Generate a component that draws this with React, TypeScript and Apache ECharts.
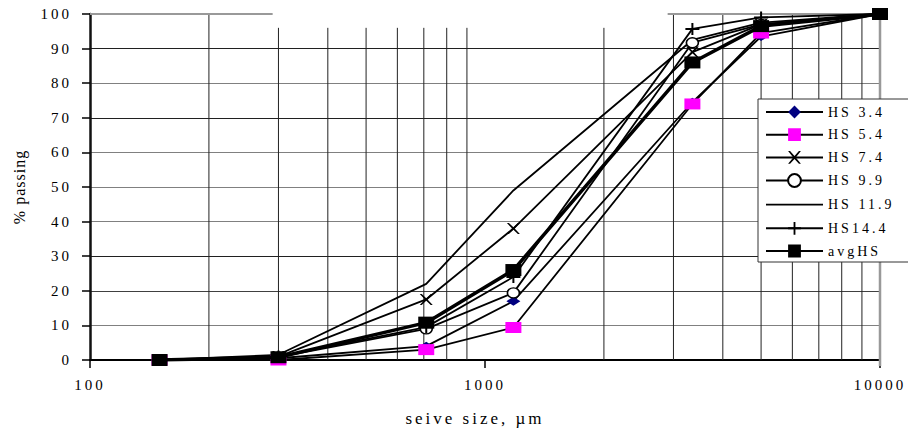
import { useEffect, useRef } from "react";
import * as echarts from "echarts";

// Sieve sizes (µm) and cumulative % passing for each sample
const sieveSizes = [150, 300, 710, 1180, 3350, 5000, 10000];
const hs34 = [0, 0.5, 4, 17, 74.5, 93.5, 100];
const hs54 = [0, 0, 3, 9.4, 74, 94.5, 100];
const hs74 = [0, 1, 17.5, 38, 89, 97, 100];
const hs99 = [0, 0.8, 9, 19.4, 91.7, 97, 100];
const hs119 = [0, 1.5, 22, 49, 92.5, 97.5, 100];
const hs144 = [0, 1, 9.5, 24, 95.7, 99, 100];
const avgHS = [0, 0.8, 10.8, 26, 86, 96.5, 100];

const seriesNames = ["HS 3.4", "HS 5.4", "HS 7.4", "HS 9.9", "HS 11.9", "HS14.4", "avgHS"];
const xTickLabels = [100, 1000, 10000];

// Minor vertical grid lines (axis values) and the % level each one reaches
const minorGridSizes = [200, 300, 400, 500, 600, 700, 800, 900, 2000, 3000, 4000, 5000, 6000, 7000, 8000, 9000];
const minorGridTops = [100, 96, 96, 96, 96, 96, 96, 96, 96, 100, 100, 100, 100, 100, 100, 100];
// Top frame segments (from size, to size)
const topFrameSegments = [
  [100, 290],
  [2900, 10000],
];

const FONT = "Liberation Serif, Times New Roman, serif";

const pairs = (vals: number[]) => sieveSizes.map((s, i) => [s, vals[i]]);

const SYM_X = "path://M0,0 H2 L6.5,4.2 L11,0 H13 L7.8,5.5 L13,11 H11 L6.5,6.8 L2,11 H0 L5.2,5.5 Z";
const SYM_PLUS = "path://M6,0 H8 V5 H14 V7 H8 V12 H6 V7 H0 V5 H6 Z";
const SYM_OVAL = "path://M0,5 A6,5 0 1,0 12,5 A6,5 0 1,0 0,5 Z";
// Plain line legend icon (degenerate corner points keep the full item box)
const ICON_PLAIN_LINE = "path://M0,0 L0.01,0 L0,0.01 Z M0,7.1 H57 V8.9 H0 Z M57,16 L56.99,16 L57,15.99 Z";

export default function App() {
  const ref = useRef<HTMLDivElement>(null);

  useEffect(() => {
    if (!ref.current) return;
    const chart = echarts.init(ref.current, undefined, { renderer: "svg" });

    const lineBase = (name: string, vals: number[]) => ({
      name,
      type: "line",
      data: pairs(vals),
      lineStyle: { color: "#000", width: 1.8 },
      z: 3,
    });

    const option: any = {
      animation: false,
      backgroundColor: "#fff",
      textStyle: { fontFamily: FONT },
      grid: { left: 90, right: 28, top: 14, bottom: 73, containLabel: false },
      xAxis: {
        type: "log",
        logBase: 10,
        min: 100,
        max: 10000,
        name: "seive size, µm",
        nameLocation: "middle",
        nameGap: 50,
        nameTextStyle: { fontFamily: FONT, fontSize: 17, color: "#000", padding: [0, 20, 0, 0] },
        axisLine: { lineStyle: { color: "#000", width: 2 } },
        axisTick: { show: true, length: 8, lineStyle: { color: "#000", width: 1.5 } },
        axisLabel: {
          margin: 17,
          fontFamily: FONT,
          fontSize: 15,
          color: "#000",
          formatter: (v: number) => (xTickLabels.includes(Math.round(v)) ? String(Math.round(v)) : ""),
        },
        splitLine: { show: false },
      },
      yAxis: {
        type: "value",
        min: 0,
        max: 100,
        interval: 10,
        name: "% passing",
        nameLocation: "middle",
        nameGap: 63,
        nameRotate: 90,
        nameTextStyle: { fontFamily: FONT, fontSize: 16, color: "#000" },
        axisLine: { show: true, lineStyle: { color: "#111", width: 2.5 } },
        axisTick: { show: true, length: 8, lineStyle: { color: "#000", width: 1.5 } },
        axisLabel: { margin: 18, fontFamily: FONT, fontSize: 15, color: "#000" },
        splitLine: {
          show: true,
          lineStyle: {
            width: 1.2,
            color: [
              "#000", "#808080", "#404040", "#202020", "#808080", "#808080",
              "#808080", "#202020", "#808080", "#202020", "rgba(0,0,0,0)",
            ],
          },
        },
      },
      legend: {
        orient: "vertical",
        left: 758,
        top: 99,
        itemWidth: 57,
        itemHeight: 16,
        itemGap: 8.7,
        padding: [6, 60, 4, 7],
        backgroundColor: "#fff",
        borderColor: "#333",
        borderWidth: 1,
        borderRadius: 0,
        data: seriesNames.map((n) => (n === "HS 11.9" ? { name: n, icon: ICON_PLAIN_LINE } : n)),
        textStyle: { fontFamily: FONT, fontSize: 14, color: "#000" },
      },
      series: [
        {
          type: "custom",
          silent: true,
          z: 1,
          data: minorGridSizes.map((s, i) => [s, minorGridTops[i]]),
          encode: { x: 0, y: 1 },
          renderItem: (_p: any, api: any) => {
            const a = api.coord([api.value(0), 0]);
            const b = api.coord([api.value(0), api.value(1)]);
            return {
              type: "line",
              shape: { x1: a[0], y1: a[1], x2: b[0], y2: b[1] },
              style: { stroke: "#222", lineWidth: 1 },
            };
          },
        },
        {
          type: "custom",
          silent: true,
          z: 1,
          data: topFrameSegments.map((seg) => [seg[0], seg[1], 100]),
          encode: { x: [0, 1], y: 2 },
          renderItem: (_p: any, api: any) => {
            const a = api.coord([api.value(0), api.value(2)]);
            const b = api.coord([api.value(1), api.value(2)]);
            return {
              type: "line",
              shape: { x1: a[0], y1: a[1], x2: b[0], y2: b[1] },
              style: { stroke: "#999", lineWidth: 2 },
            };
          },
        },
        {
          type: "custom",
          silent: true,
          z: 1,
          data: [[10000, 100]],
          encode: { x: 0, y: 1 },
          renderItem: (_p: any, api: any) => {
            const a = api.coord([api.value(0), 0]);
            const b = api.coord([api.value(0), api.value(1)]);
            return {
              type: "line",
              shape: { x1: a[0], y1: a[1] + 6, x2: b[0], y2: b[1] },
              style: { stroke: "#999", lineWidth: 2.5 },
            };
          },
        },
        {
          ...lineBase("HS 3.4", hs34),
          symbol: "diamond",
          symbolSize: [14, 9],
          itemStyle: { color: "#000080" },
        },
        {
          ...lineBase("HS 5.4", hs54),
          symbol: "rect",
          symbolSize: [16, 11],
          itemStyle: { color: "#ff00ff" },
        },
        {
          ...lineBase("HS 7.4", hs74),
          symbol: SYM_X,
          symbolSize: [13, 11],
          itemStyle: { color: "#000" },
        },
        {
          ...lineBase("HS 9.9", hs99),
          symbol: SYM_OVAL,
          symbolSize: [12, 10],
          itemStyle: { color: "#fff", borderColor: "#000", borderWidth: 1.5 },
        },
        {
          ...lineBase("HS 11.9", hs119),
          symbol: "none",
          itemStyle: { color: "#000" },
        },
        {
          ...lineBase("HS14.4", hs144),
          symbol: SYM_PLUS,
          symbolSize: [14, 12],
          itemStyle: { color: "#000" },
        },
        {
          ...lineBase("avgHS", avgHS),
          symbol: "rect",
          symbolSize: [16, 12],
          lineStyle: { color: "#000", width: 3.5 },
          itemStyle: { color: "#000" },
          z: 4,
        },
      ],
    };

    chart.setOption(option);
    return () => chart.dispose();
  }, []);

  return (
    <>
      <style>{`
        .gsd-chart svg text { letter-spacing: 3px; font-family: "Liberation Serif", "Times New Roman", serif !important; }
        .gsd-chart svg text[transform^="matrix"] { letter-spacing: 1px; }
      `}</style>
      <div
        ref={ref}
        className="gsd-chart"
        style={{ position: "fixed", left: 0, top: 0, width: 908, height: 433, background: "#fff" }}
      />
    </>
  );
}
